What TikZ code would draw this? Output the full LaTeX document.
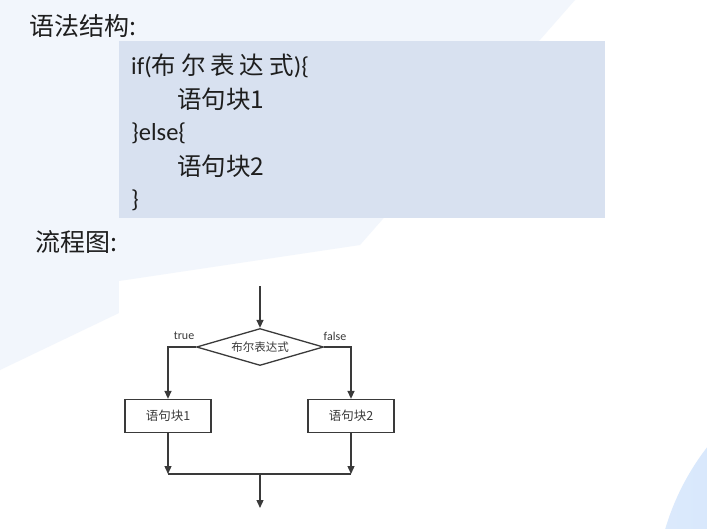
\documentclass[tikz,border=0pt]{standalone}
\usepackage{fontspec}
\setmainfont{Carlito}
\newfontfamily\cjk{Noto Sans CJK SC}
\newfontfamily\cjkwide[LetterSpace=20]{Noto Sans CJK SC}
\usetikzlibrary{arrows.meta,shapes.geometric}
\definecolor{bgblue}{HTML}{F2F6FC}
\definecolor{codebg}{HTML}{D8E1F0}
\definecolor{ink}{HTML}{1E1E1E}
\definecolor{fline}{HTML}{3A3A3A}
\definecolor{blobA}{HTML}{DCEAFC}
\definecolor{blobB}{HTML}{B9D6FA}
\tikzset{
  title/.style={anchor=west,inner sep=0pt,font=\fontsize{25}{29}\selectfont,text=ink},
  codeline/.style={anchor=west,inner sep=0pt,font=\fontsize{24.5}{28}\selectfont,text=ink},
  flowline/.style={draw=fline,line width=1.3pt},
  flowarrow/.style={flowline,-{Triangle[length=8pt,width=7pt]}},
  decision/.style={diamond,draw=fline,line width=1.3pt,fill=white,inner sep=0pt,
    minimum width=127pt,minimum height=37pt,aspect=3.4,
    font=\cjk\fontsize{11.5}{13}\selectfont,text=fline},
  stepbox/.style={rectangle,draw=fline,line width=1.3pt,fill=white,inner sep=0pt,
    minimum width=86pt,minimum height=33pt,font=\cjk\fontsize{12.5}{14}\selectfont,text=fline},
  branchlabel/.style={inner sep=0pt,font=\fontsize{12}{13}\selectfont,text=fline}
}
\begin{document}
\begin{tikzpicture}[x=1pt,y=-1pt]
\useasboundingbox (0,0) rectangle (707,528);
% background
\fill[white] (0,0) rectangle (707,528);
\fill[bgblue] (0,0) -- (575,0) -- (360,245) -- (119,281) -- (119,313) -- (0,370) -- cycle;
\begin{scope}
\clip (0,0) rectangle (707,528);
\shade[left color=blobA,right color=blobB] (905,600) circle (250);
\end{scope}
% syntax
\node[title] (t1) at (29,26) {\cjk 语法结构:};
\fill[codebg] (119,41) rectangle (605,218);
\node[codeline] (c1) at (131,66) {if({\cjkwide 布尔表达式})\{};
\node[codeline] (c2) at (177,99.5) {\cjk 语句块1};
\node[codeline] (c3) at (131,133) {\}else\{};
\node[codeline] (c4) at (177,166.5) {\cjk 语句块2};
\node[codeline] (c5) at (131,200) {\}};
\node[title] (t2) at (35,242) {\cjk 流程图:};
% flowchart
\fill[white] (119,281) rectangle (420,528);
\coordinate (start) at (260,286);
\node[decision] (d) at (260,347) {布尔表达式};
\node[stepbox] (b1) at (168,416) {语句块1};
\node[stepbox] (b2) at (351,416) {语句块2};
\coordinate (m1) at (168,474);
\coordinate (m2) at (351,474);
\coordinate (mid) at (260,474);
\coordinate (end) at (260,508);
\draw[flowarrow] (start) -- (d.north);
\draw[flowarrow] (d.west) -| (b1.north);
\draw[flowarrow] (d.east) -| (b2.north);
\draw[flowarrow] (b1.south) -- (m1);
\draw[flowarrow] (b2.south) -- (m2);
\draw[flowline] (m1) -- (m2);
\draw[flowarrow] (mid) -- (end);
\node[branchlabel] (lt) at (184,336) {true};
\node[branchlabel] (lf) at (335,336) {false};
\end{tikzpicture}
\end{document}
